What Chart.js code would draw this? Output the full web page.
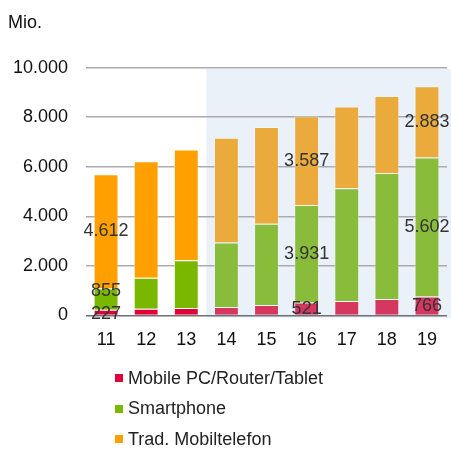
<!DOCTYPE html>
<html>
<head>
<meta charset="utf-8">
<script src="https://cdn.jsdelivr.net/npm/chart.js@4.4.1/dist/chart.umd.min.js"></script>
<style>
  html, body { margin: 0; padding: 0; background: #fff; }
  body { width: 451px; height: 449px; overflow: hidden; position: relative; font-family: "Liberation Sans", Arial, sans-serif; }
  #wrap { position: absolute; left: 0; top: 0; width: 451px; height: 365px; }
  #legend { position: absolute; left: 115px; top: 363px; }
  .item { display: flex; align-items: center; height: 30.5px; font-size: 18px; color: #222; white-space: nowrap; }
  .sw { width: 8px; height: 8px; margin-right: 5px; flex: none; }
</style>
</head>
<body>
<div id="wrap"><canvas id="c"></canvas></div>
<div id="legend"></div>
<script>
// ---- data ----
const categories = ['11', '12', '13', '14', '15', '16', '17', '18', '19'];
const mobilePC   = [227, 272, 297, 337, 419, 521, 581, 663, 766];
const smartphone = [855, 1244, 1927, 2602, 3280, 3931, 4553, 5081, 5602];
const tradPhone  = [4612, 4704, 4471, 4228, 3903, 3587, 3293, 3105, 2883];
const seriesNames = ['Mobile PC/Router/Tablet', 'Smartphone', 'Trad. Mobiltelefon'];
const yTicks = [0, 2000, 4000, 6000, 8000, 10000];
const labelledCategories = ['11', '16', '19'];
const forecastStart = '14';

// ---- styles ----
const FONT = '"Liberation Sans", Arial, sans-serif';
const darkColors  = ['#E0003A', '#7AB800', '#FFA000'];
const lightColors = ['#D6375F', '#8ABC3C', '#EBAB3C'];
const fcIndex = categories.indexOf(forecastStart);
function colorsFor(s) {
  return categories.map((c, i) => i < fcIndex ? darkColors[s] : lightColors[s]);
}
function fmt(v) { return String(v).replace(/\B(?=(\d{3})+(?!\d))/g, '.'); }

const shadePlugin = {
  id: 'shade',
  beforeDraw(chart) {
    const x = chart.scales.x, a = chart.chartArea, ctx = chart.ctx;
    const left = (x.getPixelForValue(fcIndex - 1) + x.getPixelForValue(fcIndex)) / 2;
    ctx.save();
    ctx.fillStyle = '#EAF1F9';
    ctx.fillRect(left, a.top + 1.5, chart.width - left, a.bottom - a.top + 1);
    ctx.restore();
  }
};

const nudges = { '1-0': -8, '0-0': 2 };
const labelPlugin = {
  id: 'vlabels',
  afterDatasetsDraw(chart) {
    const ctx = chart.ctx;
    ctx.save();
    ctx.font = '18px ' + FONT;
    ctx.fillStyle = '#333';
    ctx.textAlign = 'center';
    ctx.textBaseline = 'middle';
    chart.data.datasets.forEach((ds, di) => {
      const meta = chart.getDatasetMeta(di);
      labelledCategories.forEach(cat => {
        const i = categories.indexOf(cat);
        const el = meta.data[i];
        const y = (el.y + el.base) / 2 + (nudges[di + '-' + i] || 0);
        ctx.fillText(fmt(ds.data[i]), el.x, y);
      });
    });
    ctx.restore();
  }
};

const seriesData = [mobilePC, smartphone, tradPhone];
const chart = new Chart(document.getElementById('c'), {
  type: 'bar',
  data: {
    labels: categories,
    datasets: seriesData.map((d, s) => ({
      label: seriesNames[s],
      data: d,
      backgroundColor: colorsFor(s),
      borderColor: 'rgba(255,255,255,0.35)',
      borderWidth: 1,
      barPercentage: 0.62,
      categoryPercentage: 1.0
    }))
  },
  options: {
    responsive: true,
    maintainAspectRatio: false,
    animation: false,
    layout: { padding: { left: 8, right: 0, top: 0, bottom: 0 } },
    plugins: {
      legend: { display: false },
      tooltip: { enabled: false },
      title: {
        display: true,
        text: 'Mio.',
        align: 'start',
        color: '#111',
        font: { family: FONT, size: 18, weight: 'normal' },
        padding: { top: 12, bottom: 34 }
      }
    },
    scales: {
      x: {
        stacked: true,
        grid: { display: false, drawTicks: false },
        border: { display: false },
        ticks: { color: '#111', font: { family: FONT, size: 18 }, padding: 14 }
      },
      y: {
        stacked: true,
        min: 0,
        max: 10000,
        afterBuildTicks(scale) { scale.ticks = yTicks.map(v => ({ value: v })); },
        afterFit(scale) { scale.width = 78; },
        grid: {
          drawTicks: false,
          color: ctx => ctx.tick && ctx.tick.value === 0 ? '#707070' : '#ABABB0',
          lineWidth: 1.5
        },
        border: { display: false },
        ticks: {
          color: '#111',
          font: { family: FONT, size: 18 },
          padding: 18,
          callback: v => fmt(v)
        }
      }
    }
  },
  plugins: [shadePlugin, labelPlugin]
});

// HTML legend built from the chart's datasets
const legend = document.getElementById('legend');
chart.data.datasets.forEach((ds, s) => {
  const item = document.createElement('div');
  item.className = 'item';
  const sw = document.createElement('span');
  sw.className = 'sw';
  sw.style.background = darkColors[s];
  const tx = document.createElement('span');
  tx.textContent = ds.label;
  item.appendChild(sw);
  item.appendChild(tx);
  legend.appendChild(item);
});
</script>
</body>
</html>
